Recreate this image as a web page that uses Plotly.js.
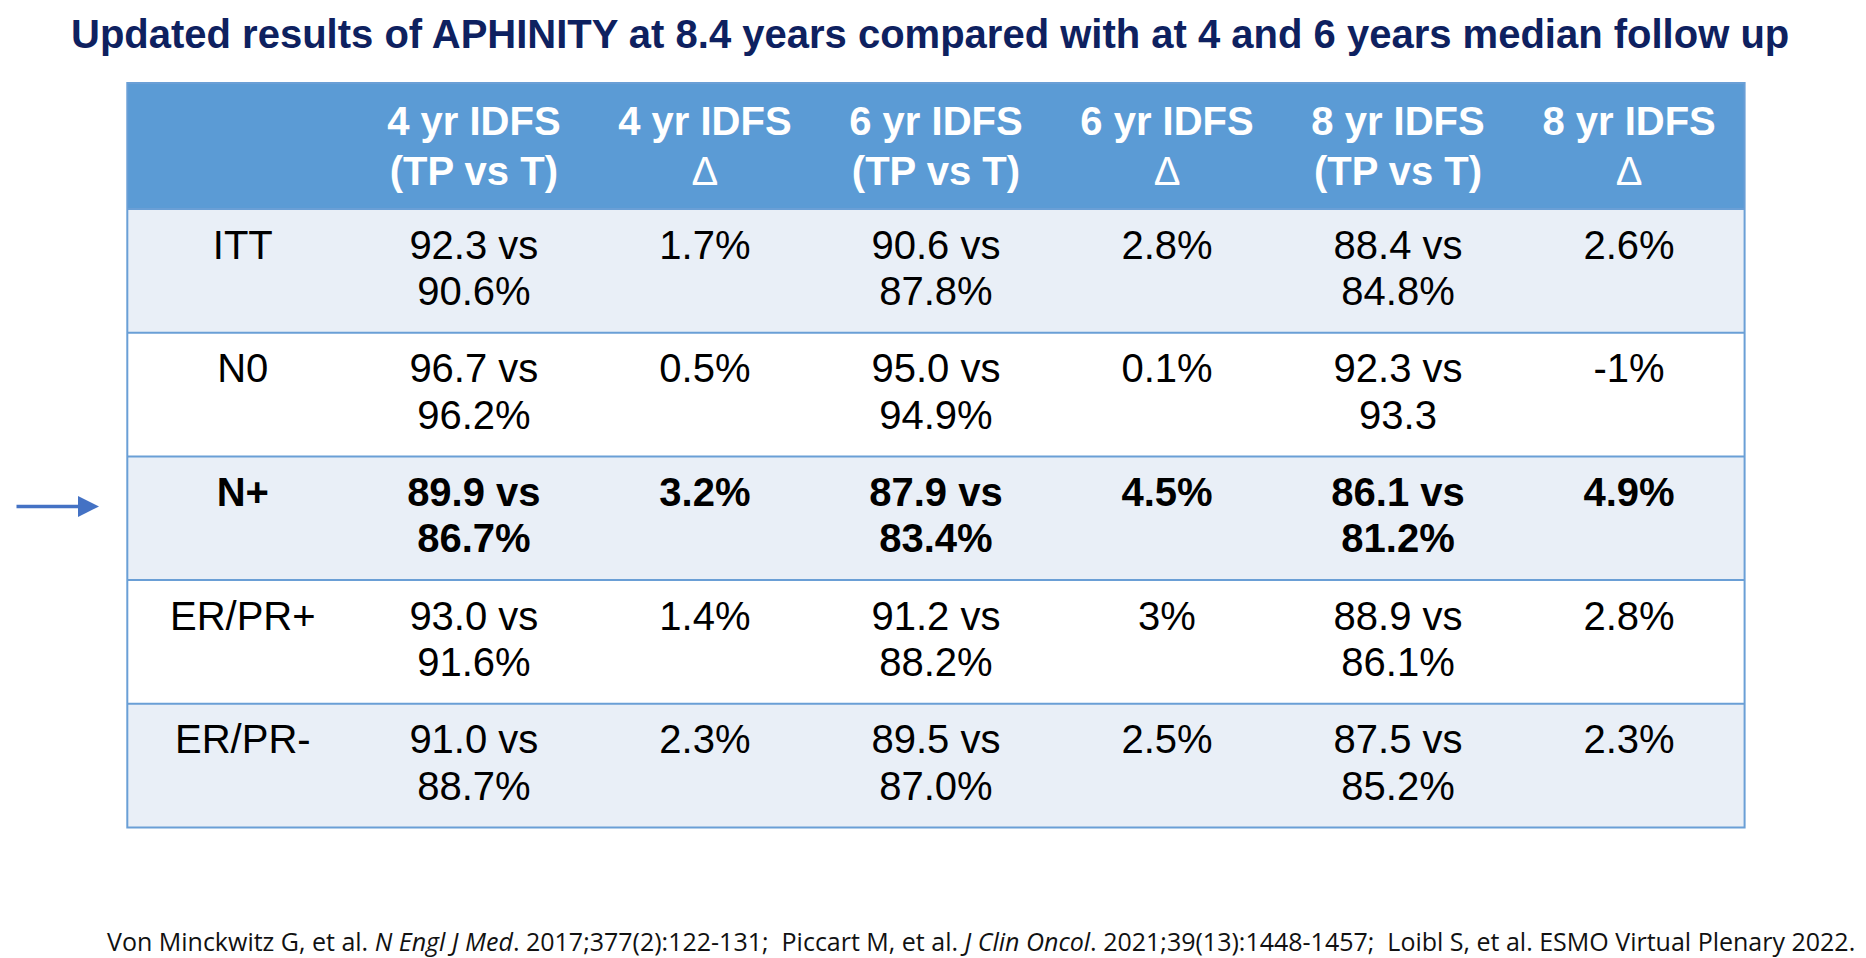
<!DOCTYPE html>
<html>
<head>
<meta charset="utf-8">
<script src="https://cdn.plot.ly/plotly-3.0.1.min.js"></script>
<style>html,body{margin:0;padding:0;background:#fff;}#chart{width:1866px;height:958px;}</style>
</head>
<body>
<div id="chart"></div>
<script>
// ---- data ----
const titleText = "Updated results of APHINITY at 8.4 years compared with at 4 and 6 years median follow up";
const headerLine1 = ["", "4 yr IDFS", "4 yr IDFS", "6 yr IDFS", "6 yr IDFS", "8 yr IDFS", "8 yr IDFS"];
const headerLine2 = ["", "(TP vs T)", "Δ", "(TP vs T)", "Δ", "(TP vs T)", "Δ"];
const subgroups = ["ITT", "N0", "N+", "ER/PR+", "ER/PR-"];
const idfs4TP = ["92.3", "96.7", "89.9", "93.0", "91.0"];
const idfs4T = ["90.6%", "96.2%", "86.7%", "91.6%", "88.7%"];
const delta4 = ["1.7%", "0.5%", "3.2%", "1.4%", "2.3%"];
const idfs6TP = ["90.6", "95.0", "87.9", "91.2", "89.5"];
const idfs6T = ["87.8%", "94.9%", "83.4%", "88.2%", "87.0%"];
const delta6 = ["2.8%", "0.1%", "4.5%", "3%", "2.5%"];
const idfs8TP = ["88.4", "92.3", "86.1", "88.9", "87.5"];
const idfs8T = ["84.8%", "93.3", "81.2%", "86.1%", "85.2%"];
const delta8 = ["2.6%", "-1%", "4.9%", "2.8%", "2.3%"];
const highlighted = ["N+"];
const footnote = "Von Minckwitz G, et al. <i>N Engl J Med</i>. 2017;377(2):122-131;  Piccart M, et al. <i>J Clin Oncol</i>. 2021;39(13):1448-1457;  Loibl S, et al. ESMO Virtual Plenary 2022.";

// ---- layout constants (pixels) ----
const W = 1866, H = 958;
const L = 127.3, R = 1744.6, TOP = 83, HB = 209, BOT = 827.5;
const nCols = headerLine1.length, nRows = subgroups.length;
const colW = (R - L) / nCols, rowH = (BOT - HB) / nRows;
const hdrTop = (TOP - HB) / rowH;
const py = p => (p - HB) / rowH;     // pixel -> row units
const pxu = p => (p - L) / colW;     // pixel -> column units

const C = {
  header: "#5b9bd5", band: "#e9eff7", line: "#6a9fd6", text: "#000000",
  title: "#0e2160", arrow: "#4472c4", foot: "#111111"
};
const FONT = "Arial, 'Liberation Sans', sans-serif";
const BODY_SIZE = 40, HEAD_SIZE = 40;

// columns of cell content
const colsLine1 = [subgroups, idfs4TP.map(v => v + " vs"), delta4, idfs6TP.map(v => v + " vs"), delta6, idfs8TP.map(v => v + " vs"), delta8];
const colsLine2 = [subgroups.map(() => ""), idfs4T, delta4.map(() => ""), idfs6T, delta6.map(() => ""), idfs8T, delta8.map(() => "")];

const bold = (s, r) => highlighted.includes(subgroups[r]) && s ? "<b>" + s + "</b>" : s;

const traces = [];
function textTrace(xs, ys, texts, size, color) {
  return {
    type: "scatter", mode: "text", x: xs, y: ys, text: texts,
    textposition: "middle center", hoverinfo: "skip", showlegend: false,
    textfont: { family: FONT, size: size, color: color }
  };
}
// header
{
  const xs = [], t1 = [], t2 = [];
  headerLine1.forEach((h, c) => {
    xs.push(c + 0.5);
    t1.push(h ? "<b>" + h + "</b>" : "");
    const h2 = headerLine2[c];
    t2.push(h2 && h2 !== "Δ" ? "<b>" + h2 + "</b>" : h2);
  });
  traces.push(textTrace(xs, xs.map(() => py(125)), t1, HEAD_SIZE, "#ffffff"));
  traces.push(textTrace(xs, xs.map(() => py(175)), t2, HEAD_SIZE, "#ffffff"));
}
// body
for (let c = 0; c < nCols; c++) {
  const xs = subgroups.map(() => c + 0.5);
  traces.push(textTrace(xs, subgroups.map((_, r) => r + 39.5 / rowH), colsLine1[c].map((s, r) => bold(s, r)), BODY_SIZE, C.text));
  traces.push(textTrace(xs, subgroups.map((_, r) => r + 86 / rowH), colsLine2[c].map((s, r) => bold(s, r)), BODY_SIZE, C.text));
}

// shapes: bands, header, grid lines, border
const shapes = [];
subgroups.forEach((_, r) => {
  shapes.push({ type: "rect", xref: "x", yref: "y", x0: 0, x1: nCols, y0: r, y1: r + 1,
    fillcolor: r % 2 === 0 ? C.band : "#ffffff", line: { width: 0 }, layer: "below" });
});
shapes.push({ type: "rect", xref: "x", yref: "y", x0: 0, x1: nCols, y0: hdrTop, y1: 0,
  fillcolor: C.header, line: { width: 0 }, layer: "below" });
for (let r = 0; r < nRows; r++) {
  shapes.push({ type: "line", xref: "x", yref: "y", x0: 0, x1: nCols, y0: r, y1: r, line: { color: C.line, width: 2 } });
}
shapes.push({ type: "rect", xref: "x", yref: "y", x0: 0, x1: nCols, y0: hdrTop, y1: nRows,
  line: { color: C.line, width: 2 }, fillcolor: "rgba(0,0,0,0)" });

const arrowRow = subgroups.indexOf(highlighted[0]);
const annotations = [
  { xref: "paper", yref: "paper", x: 0.4985, y: 1 - 34 / H, xanchor: "center", yanchor: "middle",
    text: "<b>" + titleText + "</b>", showarrow: false,
    font: { family: FONT, size: 40, color: C.title } },
  { xref: "paper", yref: "paper", x: 105 / W, y: 1 - 941 / H, xanchor: "left", yanchor: "middle",
    text: footnote, showarrow: false,
    font: { family: "'Open Sans', sans-serif", size: 25, color: C.foot } },
  { xref: "x", yref: "y", axref: "x", ayref: "y", x: pxu(99), y: arrowRow + 50 / rowH,
    ax: pxu(15), ay: arrowRow + 50 / rowH, text: "", showarrow: true,
    arrowhead: 2, arrowsize: 1.2, arrowwidth: 3.5, arrowcolor: C.arrow }
];

const layout = {
  width: W, height: H, margin: { l: 0, r: 0, t: 0, b: 0 },
  paper_bgcolor: "#ffffff", plot_bgcolor: "#ffffff",
  xaxis: { range: [pxu(0), pxu(W)], visible: false, fixedrange: true },
  yaxis: { range: [py(H), py(0)], visible: false, fixedrange: true },
  shapes: shapes, annotations: annotations, showlegend: false
};
Plotly.newPlot("chart", traces, layout, { displayModeBar: false, staticPlot: true });
</script>
</body>
</html>
